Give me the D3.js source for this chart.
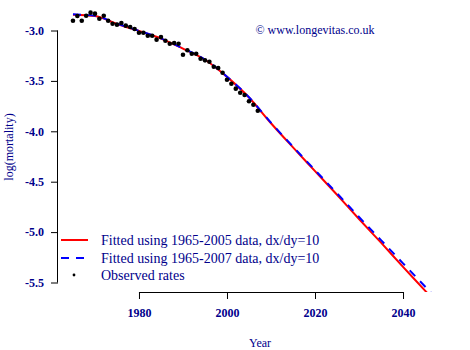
<!DOCTYPE html>
<html>
<head>
<style>
html, body { margin: 0; padding: 0; background: #fff; }
svg { display: block; }
text { font-family: "Liberation Serif", "Times New Roman", serif; fill: #00008b; }
</style>
</head>
<body>
<svg width="470" height="350"></svg>
<script src="https://cdn.jsdelivr.net/npm/d3@7"></script>
<script>
// observed log(mortality), one value per year 1965-2007
var obsYears = d3.range(1965, 2008);
var obsRates = [
  -2.903, -2.856, -2.903, -2.853, -2.823, -2.833, -2.883, -2.853, -2.903, -2.933,
  -2.942, -2.926, -2.952, -2.965, -2.985, -3.022, -3.022, -3.052, -3.052, -3.091,
  -3.064, -3.101, -3.131, -3.124, -3.131, -3.240, -3.196, -3.230, -3.230, -3.280,
  -3.296, -3.310, -3.359, -3.372, -3.419, -3.488, -3.528, -3.577, -3.617, -3.640,
  -3.702, -3.736, -3.796
];

// fitted curves, read every 5 years
var fitYears = [1965, 1970, 1975, 1980, 1985, 1990, 1995, 2000, 2005, 2010,
                2015, 2020, 2025, 2030, 2035, 2040, 2045, 2050];
var fit2005 = [-2.843, -2.857, -2.935, -3.005, -3.080, -3.180, -3.290, -3.460, -3.665, -3.920,
               -4.160, -4.395, -4.630, -4.870, -5.105, -5.345, -5.580, -5.820];
var fit2007 = [-2.840, -2.855, -2.932, -3.003, -3.078, -3.178, -3.288, -3.458, -3.662, -3.915,
               -4.152, -4.385, -4.615, -4.850, -5.080, -5.310, -5.540, -5.770];

var xTicks = [1980, 2000, 2020, 2040];
var yTicks = [-3.0, -3.5, -4.0, -4.5, -5.0, -5.5];

var legendLabels = [
  "Fitted using 1965-2005 data, dx/dy=10",
  "Fitted using 1965-2007 data, dx/dy=10",
  "Observed rates"
];

var svg = d3.select("svg");
var pLeft = 58, pRight = 462, pTop = 2, pBottom = 292;

var x = d3.scaleLinear().domain([1965 - 3.4, 2050 + 3.4]).range([pLeft, pRight]);
var y = d3.scaleLinear().domain([-3.0, -5.5]).range([30.5, 282.5]);

svg.append("clipPath").attr("id", "plotclip")
  .append("rect")
  .attr("x", pLeft).attr("y", pTop)
  .attr("width", pRight - pLeft).attr("height", pBottom - pTop);

// axes
var xAxis = svg.append("g")
  .attr("transform", "translate(0," + pBottom + ")")
  .call(d3.axisBottom(x).tickValues(xTicks).tickFormat(d3.format("d")).tickSize(7).tickPadding(9));
var yAxis = svg.append("g")
  .attr("transform", "translate(" + pLeft + ",0)")
  .call(d3.axisLeft(y).tickValues(yTicks).tickSize(7).tickPadding(7));

xAxis.select(".domain").attr("stroke", "#000").attr("d", "M" + x(1980) + ",0.5H" + x(2040));
yAxis.select(".domain").attr("stroke", "#000").attr("d", "M-0.5," + y(-3.0) + "V" + y(-5.5));

[xAxis, yAxis].forEach(function(g) {
  g.attr("font-family", "'Liberation Serif', serif");
  g.selectAll(".tick line").attr("stroke", "#000");
  g.selectAll(".tick text")
    .attr("font-size", 12)
    .attr("font-weight", "bold")
    .attr("fill", "#00008b");
});
yAxis.selectAll(".tick text").text(function(d) { return d.toFixed(1); });

// axis titles
svg.append("text")
  .attr("x", (pLeft + pRight) / 2).attr("y", 347)
  .attr("text-anchor", "middle").attr("font-size", 12)
  .text("Year");
svg.append("text")
  .attr("transform", "translate(13," + (pTop + pBottom) / 2 + ") rotate(-90)")
  .attr("text-anchor", "middle").attr("font-size", 12)
  .text("log(mortality)");

svg.append("text")
  .attr("x", 315).attr("y", 34)
  .attr("text-anchor", "middle").attr("font-size", 12)
  .text("\u00a9 www.longevitas.co.uk");

// fitted lines
var plot = svg.append("g").attr("clip-path", "url(#plotclip)");
var line = d3.line()
  .x(function(d, i) { return x(fitYears[i]); })
  .y(function(d) { return y(d); })
  .curve(d3.curveMonotoneX);

plot.append("path")
  .attr("d", line(fit2005))
  .attr("fill", "none").attr("stroke", "#ff0000").attr("stroke-width", 2);
plot.append("path")
  .attr("d", line(fit2007))
  .attr("fill", "none").attr("stroke", "#0000ff").attr("stroke-width", 2)
  .attr("stroke-dasharray", "8,7");

// observed points
plot.selectAll("circle.obs")
  .data(obsRates)
  .enter().append("circle")
  .attr("class", "obs")
  .attr("cx", function(d, i) { return x(obsYears[i]); })
  .attr("cy", function(d) { return y(d); })
  .attr("r", 2.3)
  .attr("fill", "#000");

// legend
var legend = svg.append("g");
var legY = [240, 258, 275];
legend.append("line").attr("x1", 61).attr("x2", 88).attr("y1", legY[0]).attr("y2", legY[0])
  .attr("stroke", "#ff0000").attr("stroke-width", 2);
legend.append("line").attr("x1", 61).attr("x2", 88).attr("y1", legY[1]).attr("y2", legY[1])
  .attr("stroke", "#0000ff").attr("stroke-width", 2).attr("stroke-dasharray", "8,7");
legend.append("circle").attr("cx", 74).attr("cy", legY[2]).attr("r", 1.4).attr("fill", "#000");
legend.selectAll("text.leg")
  .data(legendLabels)
  .enter().append("text")
  .attr("class", "leg")
  .attr("x", 101)
  .attr("y", function(d, i) { return legY[i] + 5; })
  .attr("font-size", 14)
  .text(function(d) { return d; });
</script>
</body>
</html>
